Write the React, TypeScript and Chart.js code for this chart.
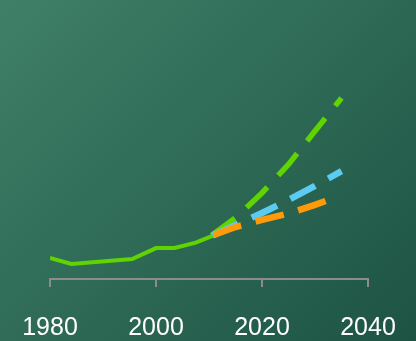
import React, { useEffect, useRef } from "react";
import { Chart, registerables } from "chart.js";

Chart.register(...registerables);

const historyYears = [1980, 1984, 1995.5, 2000, 2003.5, 2007.5, 2011];
const historyValues = [8.1, 5.8, 7.7, 11.9, 11.9, 14.0, 16.9];

const projectionYears = [2010, 2015, 2020, 2025, 2030, 2035];
const greenProjection = [16.1, 23.5, 33.1, 44.1, 56.9, 69.6];
const blueProjection = [16.1, 20.8, 25.4, 30.4, 35.8, 41.5];

const orangeYears = [2010, 2015, 2020, 2025, 2030, 2032];
const orangeProjection = [16.3, 20.0, 22.7, 25.2, 28.5, 30.0];

const xTicks = [1980, 2000, 2020, 2040];

const pts = (xs: number[], ys: number[]) => xs.map((x, i) => ({ x, y: ys[i] }));

export default function App() {
  const ref = useRef<HTMLCanvasElement>(null);
  useEffect(() => {
    if (!ref.current) return;
    const chart = new Chart(ref.current, {
      type: "line",
      data: {
        datasets: [
          {
            data: pts(orangeYears, orangeProjection),
            borderColor: "#ff9a0a",
            borderWidth: 6.5,
            borderDash: [29, 15],
            borderDashOffset: -5,
            pointRadius: 0,
          },
          {
            data: pts(projectionYears, blueProjection),
            borderColor: "#5ccbf2",
            borderWidth: 6.5,
            borderDash: [28, 15],
            borderDashOffset: -4,
            pointRadius: 0,
          },
          {
            data: pts(projectionYears, greenProjection),
            borderColor: "#5fd400",
            borderWidth: 5.5,
            borderDash: [29, 16],
            borderDashOffset: -3,
            pointRadius: 0,
          },
          {
            data: pts(historyYears, historyValues),
            borderColor: "#5fd400",
            borderWidth: 4,
            pointRadius: 0,
          },
        ],
      },
      options: {
        animation: false,
        responsive: false,
        events: [],
        layout: { padding: { top: 19, left: 50, right: 48, bottom: 0 } },
        plugins: { legend: { display: false }, tooltip: { enabled: false } },
        scales: {
          x: {
            type: "linear",
            min: 1980,
            max: 2040,
            afterBuildTicks: (axis: any) => {
              axis.ticks = xTicks.map((v) => ({ value: v }));
            },
            afterFit: (axis: any) => {
              axis.height = 62;
              axis.paddingLeft = 0;
              axis.paddingRight = 0;
            },
            ticks: {
              color: "#ffffff",
              padding: 26,
              maxRotation: 0,
              font: { family: "'Liberation Sans', Arial, sans-serif", size: 25 },
              callback: (v: any) => String(v),
            },
            grid: {
              drawOnChartArea: false,
              drawTicks: true,
              tickLength: 8,
              color: "#8c8c8c",
              lineWidth: 2,
            },
            border: { display: true, color: "#8c8c8c", width: 2 },
          },
          y: { display: false, min: 0, max: 100 },
        },
      },
    });
    return () => chart.destroy();
  }, []);
  return (
    <div
      style={{
        position: "fixed",
        left: 0,
        top: 0,
        width: 416,
        height: 341,
        background: "linear-gradient(135deg, #407f68 0%, #2e6a56 50%, #1d5343 100%)",
      }}
    >
      <canvas ref={ref} width={416} height={341} style={{ display: "block" }} />
    </div>
  );
}
